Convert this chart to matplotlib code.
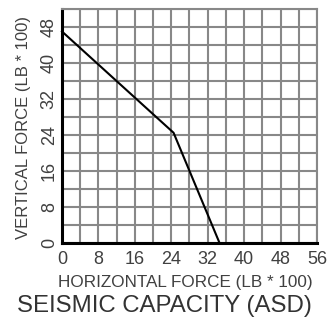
import matplotlib
matplotlib.use("Agg")
import matplotlib.pyplot as plt

# Data
horizontal = [0, 24.5, 34.6]
vertical = [47, 24.5, 0]
x_ticks = [0, 8, 16, 24, 32, 40, 48, 56]
y_ticks = [0, 8, 16, 24, 32, 40, 48]
grid_step = 4
x_max = 56
y_max = 52

plt.rcParams['font.family'] = ['Liberation Sans', 'DejaVu Sans']
txt = '#404040'
W, H = 330, 318

fig = plt.figure(figsize=(W/100, H/100), dpi=100)
ax = fig.add_axes([62/W, 1-243/H, 255/W, 234/H])

ax.set_xlim(0, x_max)
ax.set_ylim(0, y_max)
ax.set_xticks([v for v in range(0, x_max+1, grid_step)], minor=True)
ax.set_yticks([v for v in range(0, y_max+1, grid_step)], minor=True)
ax.set_xticks(x_ticks)
ax.set_yticks(y_ticks)
ax.grid(True, which='both', color='#888888', linewidth=1.5)
ax.set_axisbelow(True)
ax.tick_params(which='minor', length=0)
ax.tick_params(which='major', length=0, labelsize=13, labelcolor=txt)
ax.tick_params(axis='x', pad=6)
ax.tick_params(axis='y', pad=3)
for lab in ax.get_yticklabels():
    lab.set_rotation(90)
    lab.set_va('center')

for s in ['top', 'right']:
    ax.spines[s].set_color('#888888')
    ax.spines[s].set_linewidth(1.5)
for s in ['left', 'bottom']:
    ax.spines[s].set_color('black')
    ax.spines[s].set_linewidth(2.2)

ax.plot(horizontal, vertical, color='black', linewidth=1.5, clip_on=False, zorder=5)

fig.text(185.5/W, 1-286.5/H, 'HORIZONTAL FORCE (LB * 100)', fontsize=12.3, color=txt,
         ha='center', va='baseline')
fig.text(28/W, 1-127.5/H, 'VERTICAL FORCE (LB * 100)', fontsize=12, color=txt,
         ha='center', va='baseline', rotation=90, rotation_mode='anchor')

fig.text(17/W, 1-312/H, 'SEISMIC CAPACITY (ASD)', fontsize=17.3, color='#333333',
         ha='left', va='baseline')

fig.savefig('out.png', dpi=100)
